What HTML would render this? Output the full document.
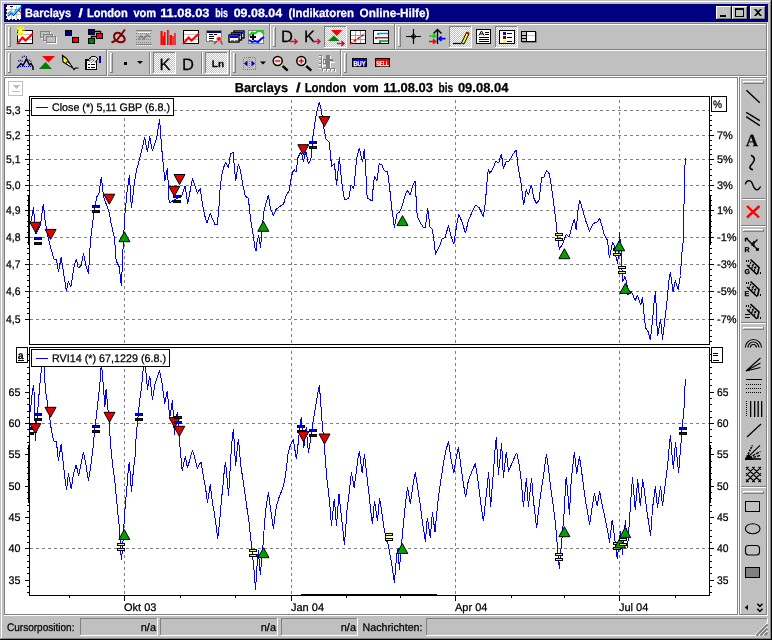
<!DOCTYPE html>
<html><head><meta charset="utf-8"><title>Barclays / London vom 11.08.03 bis 09.08.04 (Indikatoren Online-Hilfe)</title>
<style>html,body{margin:0;padding:0;background:#c0c0c0;overflow:hidden}svg{display:block;will-change:transform}text{white-space:pre;text-rendering:geometricPrecision;paint-order:stroke;stroke-width:0.25px;stroke-linejoin:round}</style>
</head><body>
<svg width="772" height="640" viewBox="0 0 772 640" shape-rendering="crispEdges">
<rect x="0" y="0" width="772" height="640" fill="#c0c0c0" />
<rect x="0" y="0" width="772" height="1" fill="#c0c0c0" />
<rect x="0" y="0" width="1" height="640" fill="#c0c0c0" />
<rect x="1" y="1" width="770" height="1" fill="#ffffff" />
<rect x="1" y="1" width="1" height="638" fill="#ffffff" />
<rect x="0" y="639" width="772" height="1" fill="#000" />
<rect x="771" y="0" width="1" height="640" fill="#000" />
<rect x="1" y="638" width="770" height="1" fill="#808080" />
<rect x="770" y="1" width="1" height="638" fill="#808080" />
<rect x="4" y="4" width="764" height="18" fill="#000080" />
<text y="17" font-family="&quot;Liberation Sans&quot;, sans-serif" font-size="12" font-weight="bold" fill="#fff" stroke="#fff"><tspan x="25" textLength="46.2" lengthAdjust="spacingAndGlyphs">Barclays</tspan><tspan> </tspan><tspan x="78.6" textLength="4.4" lengthAdjust="spacingAndGlyphs">/</tspan><tspan> </tspan><tspan x="86.9" textLength="40.8" lengthAdjust="spacingAndGlyphs">London</tspan><tspan> </tspan><tspan x="133.4" textLength="22.8" lengthAdjust="spacingAndGlyphs">vom</tspan><tspan> </tspan><tspan x="160.2" textLength="49.3" lengthAdjust="spacingAndGlyphs">11.08.03</tspan><tspan> </tspan><tspan x="215.2" textLength="12.8" lengthAdjust="spacingAndGlyphs">bis</tspan><tspan> </tspan><tspan x="233.7" textLength="48.4" lengthAdjust="spacingAndGlyphs">09.08.04</tspan><tspan> </tspan><tspan x="288.4" textLength="65.6" lengthAdjust="spacingAndGlyphs">(Indikatoren</tspan><tspan> </tspan><tspan x="359.6" textLength="69.9" lengthAdjust="spacingAndGlyphs">Online-Hilfe)</tspan></text>
<rect x="6" y="5" width="15" height="15" fill="#fff" />
<rect x="11" y="6" width="1" height="13" fill="#c0c0c0" />
<rect x="16" y="6" width="1" height="13" fill="#c0c0c0" />
<rect x="7" y="9" width="14" height="1" fill="#c0c0c0" />
<rect x="7" y="14" width="14" height="1" fill="#c0c0c0" />
<path d="M6.5 5V19.5H21" stroke="#000" stroke-width="1" stroke-dasharray="2 1.5" fill="none"/>
<rect x="10" y="6" width="3" height="1" fill="#000" />
<path d="M8 13.5l3-2 2.5 3.5 2.5-5 3 .5 2 2" stroke="#ff0000" stroke-width="1.3" fill="none" shape-rendering="auto"/>
<path d="M8 16l3.5-3.5 2 2.5 7.5-8" stroke="#0000ff" stroke-width="1.6" fill="none" shape-rendering="auto"/>
<path d="M8 15l3.5-3.5 2 2.5 7.5-8" stroke="#00ffff" stroke-width="1.3" fill="none" shape-rendering="auto"/>
<rect x="716" y="6" width="16" height="14" fill="#c0c0c0" />
<rect x="716" y="6" width="15" height="1" fill="#ffffff" />
<rect x="716" y="6" width="1" height="13" fill="#ffffff" />
<rect x="716" y="19" width="16" height="1" fill="#000" />
<rect x="731" y="6" width="1" height="14" fill="#000" />
<rect x="717" y="18" width="14" height="1" fill="#808080" />
<rect x="730" y="7" width="1" height="12" fill="#808080" />
<rect x="732" y="6" width="16" height="14" fill="#c0c0c0" />
<rect x="732" y="6" width="15" height="1" fill="#ffffff" />
<rect x="732" y="6" width="1" height="13" fill="#ffffff" />
<rect x="732" y="19" width="16" height="1" fill="#000" />
<rect x="747" y="6" width="1" height="14" fill="#000" />
<rect x="733" y="18" width="14" height="1" fill="#808080" />
<rect x="746" y="7" width="1" height="12" fill="#808080" />
<rect x="750" y="6" width="16" height="14" fill="#c0c0c0" />
<rect x="750" y="6" width="15" height="1" fill="#ffffff" />
<rect x="750" y="6" width="1" height="13" fill="#ffffff" />
<rect x="750" y="19" width="16" height="1" fill="#000" />
<rect x="765" y="6" width="1" height="14" fill="#000" />
<rect x="751" y="18" width="14" height="1" fill="#808080" />
<rect x="764" y="7" width="1" height="12" fill="#808080" />
<rect x="720" y="15" width="6" height="2" fill="#000" />
<path d="M735 8h9v9h-9z M736 10h7v6h-7z" fill="#000" fill-rule="evenodd"/>
<path d="M754 9h2l2 2 2-2h2l-3 3.5 3 3.5h-2l-2-2-2 2h-2l3-3.5z" fill="#000" shape-rendering="auto"/>
<rect x="4" y="23" width="763" height="1" fill="#808080" />
<rect x="4" y="23" width="1" height="53" fill="#808080" />
<rect x="5" y="24" width="763" height="1" fill="#ffffff" />
<rect x="5" y="24" width="1" height="52" fill="#ffffff" />
<rect x="5" y="49" width="762" height="1" fill="#808080" />
<rect x="5" y="50" width="762" height="1" fill="#ffffff" />
<rect x="5" y="75" width="762" height="1" fill="#808080" />
<rect x="4" y="76" width="764" height="1" fill="#ffffff" />
<rect x="766" y="24" width="1" height="52" fill="#808080" />
<rect x="767" y="23" width="1" height="54" fill="#ffffff" />
<rect x="8" y="27" width="1" height="20" fill="#ffffff" />
<rect x="8" y="27" width="2" height="1" fill="#ffffff" />
<rect x="10" y="27" width="1" height="20" fill="#808080" />
<rect x="8" y="46" width="3" height="1" fill="#808080" />
<rect x="273" y="27" width="1" height="20" fill="#ffffff" />
<rect x="273" y="27" width="2" height="1" fill="#ffffff" />
<rect x="275" y="27" width="1" height="20" fill="#808080" />
<rect x="273" y="46" width="3" height="1" fill="#808080" />
<rect x="398" y="27" width="1" height="20" fill="#ffffff" />
<rect x="398" y="27" width="2" height="1" fill="#ffffff" />
<rect x="400" y="27" width="1" height="20" fill="#808080" />
<rect x="398" y="46" width="3" height="1" fill="#808080" />
<rect x="8" y="53" width="1" height="20" fill="#ffffff" />
<rect x="8" y="53" width="2" height="1" fill="#ffffff" />
<rect x="10" y="53" width="1" height="20" fill="#808080" />
<rect x="8" y="72" width="3" height="1" fill="#808080" />
<rect x="110" y="53" width="1" height="20" fill="#ffffff" />
<rect x="110" y="53" width="2" height="1" fill="#ffffff" />
<rect x="112" y="53" width="1" height="20" fill="#808080" />
<rect x="110" y="72" width="3" height="1" fill="#808080" />
<rect x="233" y="53" width="1" height="20" fill="#ffffff" />
<rect x="233" y="53" width="2" height="1" fill="#ffffff" />
<rect x="235" y="53" width="1" height="20" fill="#808080" />
<rect x="233" y="72" width="3" height="1" fill="#808080" />
<rect x="344" y="53" width="1" height="20" fill="#ffffff" />
<rect x="344" y="53" width="2" height="1" fill="#ffffff" />
<rect x="346" y="53" width="1" height="20" fill="#808080" />
<rect x="344" y="72" width="3" height="1" fill="#808080" />
<rect x="269" y="24" width="1" height="25" fill="#808080" />
<rect x="270" y="24" width="1" height="25" fill="#ffffff" />
<rect x="394" y="24" width="1" height="25" fill="#808080" />
<rect x="395" y="24" width="1" height="25" fill="#ffffff" />
<rect x="106" y="50" width="1" height="25" fill="#808080" />
<rect x="107" y="50" width="1" height="26" fill="#ffffff" />
<rect x="229" y="50" width="1" height="25" fill="#808080" />
<rect x="230" y="50" width="1" height="26" fill="#ffffff" />
<rect x="340" y="50" width="1" height="25" fill="#808080" />
<rect x="341" y="50" width="1" height="26" fill="#ffffff" />
<rect x="5" y="78" width="732" height="536" fill="#fff" />
<rect x="4" y="77" width="734" height="1" fill="#808080" />
<rect x="4" y="77" width="1" height="538" fill="#808080" />
<rect x="737" y="77" width="1" height="538" fill="#808080" />
<rect x="4" y="614" width="734" height="1" fill="#808080" />
<rect x="738" y="77" width="1" height="539" fill="#ffffff" />
<rect x="4" y="615" width="764" height="1" fill="#ffffff" />
<rect x="739" y="77" width="1" height="538" fill="#808080" />
<rect x="739" y="77" width="28" height="1" fill="#808080" />
<rect x="740" y="78" width="1" height="536" fill="#ffffff" />
<rect x="740" y="78" width="26" height="1" fill="#ffffff" />
<rect x="766" y="78" width="1" height="537" fill="#808080" />
<rect x="767" y="77" width="1" height="539" fill="#ffffff" />
<rect x="739" y="614" width="28" height="1" fill="#808080" />
<rect x="741" y="225" width="25" height="1" fill="#808080" />
<rect x="741" y="226" width="25" height="1" fill="#ffffff" />
<rect x="741" y="322" width="25" height="1" fill="#808080" />
<rect x="741" y="323" width="25" height="1" fill="#ffffff" />
<rect x="741" y="486" width="25" height="1" fill="#808080" />
<rect x="741" y="487" width="25" height="1" fill="#ffffff" />
<rect x="743" y="81" width="21" height="1" fill="#ffffff" />
<rect x="743" y="81" width="1" height="2" fill="#ffffff" />
<rect x="743" y="83" width="21" height="1" fill="#808080" />
<rect x="763" y="81" width="1" height="3" fill="#808080" />
<rect x="743" y="229" width="21" height="1" fill="#ffffff" />
<rect x="743" y="229" width="1" height="2" fill="#ffffff" />
<rect x="743" y="231" width="21" height="1" fill="#808080" />
<rect x="763" y="229" width="1" height="3" fill="#808080" />
<rect x="743" y="327" width="21" height="1" fill="#ffffff" />
<rect x="743" y="327" width="1" height="2" fill="#ffffff" />
<rect x="743" y="329" width="21" height="1" fill="#808080" />
<rect x="763" y="327" width="1" height="3" fill="#808080" />
<rect x="743" y="491" width="21" height="1" fill="#ffffff" />
<rect x="743" y="491" width="1" height="2" fill="#ffffff" />
<rect x="743" y="493" width="21" height="1" fill="#808080" />
<rect x="763" y="491" width="1" height="3" fill="#808080" />
<rect x="742" y="198" width="23" height="1" fill="#808080" />
<rect x="742" y="199" width="23" height="1" fill="#ffffff" />
<rect x="4" y="616" width="764" height="1" fill="#c0c0c0" />
<rect x="80" y="618" width="77" height="1" fill="#808080" />
<rect x="80" y="618" width="1" height="17" fill="#808080" />
<rect x="80" y="635" width="78" height="1" fill="#ffffff" />
<rect x="157" y="618" width="1" height="18" fill="#ffffff" />
<rect x="160" y="618" width="117" height="1" fill="#808080" />
<rect x="160" y="618" width="1" height="17" fill="#808080" />
<rect x="160" y="635" width="118" height="1" fill="#ffffff" />
<rect x="277" y="618" width="1" height="18" fill="#ffffff" />
<rect x="281" y="618" width="76" height="1" fill="#808080" />
<rect x="281" y="618" width="1" height="17" fill="#808080" />
<rect x="281" y="635" width="77" height="1" fill="#ffffff" />
<rect x="357" y="618" width="1" height="18" fill="#ffffff" />
<rect x="426" y="618" width="341" height="1" fill="#808080" />
<rect x="426" y="618" width="1" height="17" fill="#808080" />
<rect x="426" y="635" width="342" height="1" fill="#ffffff" />
<rect x="767" y="618" width="1" height="18" fill="#ffffff" />
<text x="7" y="631" font-family="&quot;Liberation Sans&quot;, sans-serif" font-size="11" font-weight="normal" fill="#000" stroke="#000" text-anchor="start" textLength="67.5" lengthAdjust="spacingAndGlyphs" >Cursorposition:</text>
<text x="156" y="631" font-family="&quot;Liberation Sans&quot;, sans-serif" font-size="11" font-weight="normal" fill="#000" stroke="#000" text-anchor="end" >n/a</text>
<text x="276" y="631" font-family="&quot;Liberation Sans&quot;, sans-serif" font-size="11" font-weight="normal" fill="#000" stroke="#000" text-anchor="end" >n/a</text>
<text x="356" y="631" font-family="&quot;Liberation Sans&quot;, sans-serif" font-size="11" font-weight="normal" fill="#000" stroke="#000" text-anchor="end" >n/a</text>
<text x="362.5" y="631" font-family="&quot;Liberation Sans&quot;, sans-serif" font-size="11" font-weight="normal" fill="#000" stroke="#000" text-anchor="start" textLength="60" lengthAdjust="spacingAndGlyphs" >Nachrichten:</text>
<rect x="755" y="622" width="13" height="14" fill="#c0c0c0" />
<rect x="767" y="618" width="1" height="5" fill="#ffffff" />
<path d="M755 635.5L767.5 623" stroke="#fff" stroke-width="1.2" shape-rendering="auto"/>
<path d="M756.5 635.5L767.5 624.5" stroke="#808080" stroke-width="2" shape-rendering="auto"/>
<path d="M759 635.5L767.5 627" stroke="#fff" stroke-width="1.2" shape-rendering="auto"/>
<path d="M760.5 635.5L767.5 628.5" stroke="#808080" stroke-width="2" shape-rendering="auto"/>
<path d="M763 635.5L767.5 631" stroke="#fff" stroke-width="1.2" shape-rendering="auto"/>
<path d="M764.5 635.5L767.5 632.5" stroke="#808080" stroke-width="2" shape-rendering="auto"/>
<text y="91.5" font-family="&quot;Liberation Sans&quot;, sans-serif" font-size="13" font-weight="bold" fill="#000" stroke="#000"><tspan x="234.8" textLength="53.2" lengthAdjust="spacingAndGlyphs">Barclays</tspan><tspan> </tspan><tspan x="296" textLength="4.6" lengthAdjust="spacingAndGlyphs">/</tspan><tspan> </tspan><tspan x="304.7" textLength="41.6" lengthAdjust="spacingAndGlyphs">London</tspan><tspan> </tspan><tspan x="353.3" textLength="25.3" lengthAdjust="spacingAndGlyphs">vom</tspan><tspan> </tspan><tspan x="383.2" textLength="49.8" lengthAdjust="spacingAndGlyphs">11.08.03</tspan><tspan> </tspan><tspan x="438.4" textLength="14.8" lengthAdjust="spacingAndGlyphs">bis</tspan><tspan> </tspan><tspan x="457.9" textLength="50.5" lengthAdjust="spacingAndGlyphs">09.08.04</tspan></text>
<rect x="8.5" y="81.5" width="14" height="14" fill="#fff" stroke="#c0c0c0" stroke-width="1"/>
<path d="M12 85h8l-4 4z" fill="#c0c0c0"/>
<rect x="12" y="91" width="8" height="1" fill="#c0c0c0" />
<path d="M30 110.5H709" stroke="#808080" stroke-width="1" stroke-dasharray="3 3" fill="none"/>
<path d="M30 135.5H709" stroke="#808080" stroke-width="1" stroke-dasharray="3 3" fill="none"/>
<path d="M30 159.5H709" stroke="#808080" stroke-width="1" stroke-dasharray="3 3" fill="none"/>
<path d="M30 185.5H709" stroke="#808080" stroke-width="1" stroke-dasharray="3 3" fill="none"/>
<path d="M30 210.5H709" stroke="#808080" stroke-width="1" stroke-dasharray="3 3" fill="none"/>
<path d="M30 237.5H709" stroke="#808080" stroke-width="1" stroke-dasharray="3 3" fill="none"/>
<path d="M30 264.5H709" stroke="#808080" stroke-width="1" stroke-dasharray="3 3" fill="none"/>
<path d="M30 291.5H709" stroke="#808080" stroke-width="1" stroke-dasharray="3 3" fill="none"/>
<path d="M30 319.5H709" stroke="#808080" stroke-width="1" stroke-dasharray="3 3" fill="none"/>
<path d="M124.5 100V344" stroke="#808080" stroke-width="1" stroke-dasharray="3 3" fill="none"/>
<path d="M291.5 100V344" stroke="#808080" stroke-width="1" stroke-dasharray="3 3" fill="none"/>
<path d="M455.5 100V344" stroke="#808080" stroke-width="1" stroke-dasharray="3 3" fill="none"/>
<path d="M619.5 100V344" stroke="#808080" stroke-width="1" stroke-dasharray="3 3" fill="none"/>
<path d="M30.8 222.3 L33.5 207.5 L34.6 221.6 L35.8 234.0 L40.5 224.7 L43.3 203.6 L45.2 221.6 L48.3 238.8 L53.8 259.0 L56.4 259.4 L58.5 271.9 L61.1 257.5 L63.2 270.0 L66.3 291.1 L68.3 281.7 L71.0 286.4 L74.1 266.1 L76.4 258.8 L78.3 268.1 L81.1 265.3 L83.5 253.6 L86.1 266.1 L88.5 273.9 L90.4 241.9 L92.7 221.6 L96.6 197.3 L98.9 193.4 L101.3 177.0 L103.6 196.6 L109.1 212.2 L111.4 224.7 L114.6 238.8 L116.1 260.6 L119.2 266.9 L121.4 286.4 L122.7 255.2 L124.7 216.9 L127.0 191.9 L129.4 175.0 L131.4 208.3 L134.1 185.6 L136.4 170.0 L138.0 165.3 L141.9 149.7 L144.6 137.2 L147.4 152.0 L149.7 136.4 L152.4 151.2 L156.8 137.2 L159.6 119.2 L161.4 145.0 L163.8 170.0 L164.9 180.9 L167.4 168.1 L169.2 203.1 L173.2 200.5 L181.8 195.8 L185.2 185.6 L187.7 204.0 L192.4 178.6 L197.4 193.4 L200.2 188.5 L202.3 203.1 L204.7 215.6 L207.0 222.7 L210.2 213.3 L212.5 218.8 L214.8 224.2 L217.2 224.7 L218.8 209.4 L220.3 185.9 L221.9 175.0 L223.4 168.0 L225.8 162.5 L228.4 168.0 L230.5 153.9 L233.1 152.3 L234.4 167.2 L235.6 181.2 L238.3 164.1 L240.6 171.1 L243.0 185.9 L245.3 196.1 L248.4 198.4 L250.3 217.2 L253.1 234.4 L255.0 248.0 L256.0 251.0 L257.0 242.2 L258.6 235.6 L260.6 247.7 L261.7 232.8 L264.1 210.2 L266.4 201.6 L268.4 195.3 L270.6 209.4 L273.4 215.3 L276.2 209.1 L279.7 206.6 L283.6 203.9 L285.9 196.1 L289.1 190.6 L290.6 181.2 L292.5 172.3 L294.1 169.7 L296.1 172.3 L298.0 157.5 L300.3 152.8 L301.9 154.4 L303.4 161.4 L305.8 151.2 L308.4 163.8 L310.9 159.1 L312.8 137.2 L315.2 120.8 L317.5 108.3 L319.4 102.0 L321.4 110.6 L323.8 127.8 L326.1 139.5 L329.2 141.9 L331.6 166.6 L334.4 163.4 L336.6 185.3 L339.4 157.5 L341.7 182.5 L342.5 187.2 L344.4 200.0 L348.8 198.1 L351.1 184.8 L353.8 188.8 L355.8 166.9 L357.3 155.2 L359.4 147.8 L360.9 155.2 L362.5 162.2 L364.4 148.9 L365.6 168.4 L367.2 198.1 L372.2 200.9 L373.4 184.1 L374.5 175.9 L376.9 180.9 L379.2 163.8 L381.6 164.5 L384.4 170.8 L387.5 171.6 L389.4 185.6 L391.7 207.5 L394.4 227.5 L396.9 213.8 L399.5 212.2 L402.2 205.9 L404.7 196.6 L407.3 190.3 L410.0 195.0 L412.8 185.6 L415.2 181.2 L416.2 199.7 L417.2 216.1 L420.6 223.1 L423.4 227.5 L425.3 227.5 L427.7 208.3 L430.0 227.0 L432.3 229.1 L433.9 240.3 L435.5 254.4 L439.4 246.6 L442.2 238.8 L445.3 237.2 L448.3 225.5 L450.9 235.6 L453.8 244.2 L455.6 232.5 L456.9 223.1 L458.8 214.5 L461.9 221.6 L465.5 233.3 L468.1 221.6 L472.0 212.2 L475.6 205.2 L479.1 207.5 L483.4 216.6 L485.3 202.8 L486.9 184.1 L487.3 176.2 L488.4 169.2 L489.7 173.9 L493.1 167.7 L495.9 161.4 L498.6 163.0 L501.4 153.6 L503.3 168.4 L506.4 161.4 L508.8 161.4 L513.4 153.6 L516.2 149.7 L518.1 166.9 L521.2 184.1 L523.6 205.2 L526.2 189.5 L528.3 195.0 L531.4 184.8 L533.8 198.1 L536.6 203.6 L539.2 199.7 L541.6 177.8 L543.9 177.0 L546.6 170.3 L549.4 173.9 L551.7 188.8 L553.6 202.5 L555.9 221.2 L557.5 236.9 L559.4 249.4 L563.0 243.1 L566.1 234.5 L569.2 236.9 L572.3 225.2 L574.4 219.4 L576.2 230.3 L578.1 208.8 L579.7 199.7 L582.5 209.5 L585.9 221.2 L589.5 231.4 L592.7 224.4 L595.0 222.5 L597.3 222.0 L599.7 218.4 L602.0 225.9 L604.4 235.3 L607.5 240.3 L609.4 258.4 L612.5 242.3 L614.5 245.5 L616.1 257.2 L617.7 264.2 L619.5 232.2 L621.6 258.8 L622.5 282.3 L624.9 276.5 L626.9 283.3 L627.8 294.7 L631.2 291.1 L635.2 300.5 L637.5 295.0 L640.6 305.2 L642.5 297.3 L643.8 312.2 L645.6 327.8 L648.1 331.7 L650.3 339.5 L652.3 323.1 L653.9 304.4 L655.5 291.1 L656.2 307.5 L657.5 336.4 L660.6 319.2 L662.5 339.5 L664.8 320.0 L667.2 299.7 L668.8 280.9 L670.3 272.3 L673.1 291.6 L675.3 280.2 L678.1 289.5 L680.5 275.5 L681.6 255.9 L682.8 245.0 L683.4 240.0 L683.8 216.6 L684.5 177.5 L685.3 158.4" fill="none" stroke="#0000ff" stroke-width="1" stroke-linejoin="bevel" shape-rendering="crispEdges"/>
<path d="M29.9 222.3h11l-5.5 10z" fill="#e00000" stroke="#000" stroke-width="1" stroke-linejoin="miter" shape-rendering="auto"/>
<rect x="34" y="237" width="8" height="3" fill="#000" />
<rect x="35" y="238" width="6" height="1" fill="#0000ff" />
<rect x="34" y="242" width="8" height="3" fill="#000" />
<rect x="35" y="243" width="6" height="1" fill="#0000ff" />
<path d="M45.1 229.4h11l-5.5 10z" fill="#e00000" stroke="#000" stroke-width="1" stroke-linejoin="miter" shape-rendering="auto"/>
<rect x="92" y="205" width="8" height="3" fill="#000" />
<rect x="93" y="206" width="6" height="1" fill="#0000ff" />
<rect x="92" y="210" width="8" height="3" fill="#000" />
<rect x="93" y="211" width="6" height="1" fill="#0000ff" />
<path d="M103.8 194.2h11l-5.5 10z" fill="#e00000" stroke="#000" stroke-width="1" stroke-linejoin="miter" shape-rendering="auto"/>
<path d="M124.4 231.7l5.5 10h-11z" fill="#00a000" stroke="#000" stroke-width="1" stroke-linejoin="miter" shape-rendering="auto"/>
<path d="M168.8 186.3h11l-5.5 10z" fill="#e00000" stroke="#000" stroke-width="1" stroke-linejoin="miter" shape-rendering="auto"/>
<rect x="173" y="195" width="8" height="3" fill="#000" />
<rect x="174" y="196" width="6" height="1" fill="#0000ff" />
<rect x="173" y="200" width="8" height="3" fill="#000" />
<rect x="174" y="201" width="6" height="1" fill="#0000ff" />
<path d="M174.0 174.5h11l-5.5 10z" fill="#e00000" stroke="#000" stroke-width="1" stroke-linejoin="miter" shape-rendering="auto"/>
<path d="M263.3 221.3l5.5 10h-11z" fill="#00a000" stroke="#000" stroke-width="1" stroke-linejoin="miter" shape-rendering="auto"/>
<path d="M297.8 144.7h11l-5.5 10z" fill="#e00000" stroke="#000" stroke-width="1" stroke-linejoin="miter" shape-rendering="auto"/>
<rect x="309" y="141" width="8" height="3" fill="#000" />
<rect x="310" y="142" width="6" height="1" fill="#0000ff" />
<rect x="309" y="146" width="8" height="3" fill="#000" />
<rect x="310" y="147" width="6" height="1" fill="#0000ff" />
<path d="M318.9 116.6h11l-5.5 10z" fill="#e00000" stroke="#000" stroke-width="1" stroke-linejoin="miter" shape-rendering="auto"/>
<path d="M402.5 215.6l5.5 10h-11z" fill="#00a000" stroke="#000" stroke-width="1" stroke-linejoin="miter" shape-rendering="auto"/>
<rect x="555" y="233" width="8" height="3" fill="#000" />
<rect x="556" y="234" width="6" height="1" fill="#ffff00" />
<rect x="555" y="238" width="8" height="3" fill="#000" />
<rect x="556" y="239" width="6" height="1" fill="#ffff00" />
<path d="M564.4 248.7l5.5 10h-11z" fill="#00a000" stroke="#000" stroke-width="1" stroke-linejoin="miter" shape-rendering="auto"/>
<rect x="613" y="248" width="8" height="3" fill="#000" />
<rect x="614" y="249" width="6" height="1" fill="#ffff00" />
<rect x="613" y="253" width="8" height="3" fill="#000" />
<rect x="614" y="254" width="6" height="1" fill="#ffff00" />
<path d="M619.2 240.8l5.5 10h-11z" fill="#00a000" stroke="#000" stroke-width="1" stroke-linejoin="miter" shape-rendering="auto"/>
<rect x="618" y="266" width="8" height="3" fill="#000" />
<rect x="619" y="267" width="6" height="1" fill="#ffff00" />
<rect x="618" y="271" width="8" height="3" fill="#000" />
<rect x="619" y="272" width="6" height="1" fill="#ffff00" />
<path d="M625.3 283.4l5.5 10h-11z" fill="#00a000" stroke="#000" stroke-width="1" stroke-linejoin="miter" shape-rendering="auto"/>
<rect x="29" y="96" width="681" height="1" fill="#000" />
<rect x="29" y="344" width="681" height="1" fill="#000" />
<rect x="29" y="96" width="1" height="249" fill="#000" />
<rect x="709" y="96" width="1" height="249" fill="#000" />
<rect x="25" y="110" width="4" height="1" fill="#000" />
<rect x="27" y="115" width="2" height="1" fill="#000" />
<rect x="710" y="115" width="2" height="1" fill="#000" />
<rect x="27" y="120" width="2" height="1" fill="#000" />
<rect x="710" y="120" width="2" height="1" fill="#000" />
<rect x="27" y="125" width="2" height="1" fill="#000" />
<rect x="710" y="125" width="2" height="1" fill="#000" />
<rect x="27" y="130" width="2" height="1" fill="#000" />
<rect x="710" y="130" width="2" height="1" fill="#000" />
<rect x="25" y="135" width="4" height="1" fill="#000" />
<rect x="710" y="135" width="4" height="1" fill="#000" />
<rect x="27" y="140" width="2" height="1" fill="#000" />
<rect x="710" y="140" width="2" height="1" fill="#000" />
<rect x="27" y="145" width="2" height="1" fill="#000" />
<rect x="710" y="145" width="2" height="1" fill="#000" />
<rect x="27" y="149" width="2" height="1" fill="#000" />
<rect x="710" y="149" width="2" height="1" fill="#000" />
<rect x="27" y="154" width="2" height="1" fill="#000" />
<rect x="710" y="154" width="2" height="1" fill="#000" />
<rect x="25" y="159" width="4" height="1" fill="#000" />
<rect x="710" y="159" width="4" height="1" fill="#000" />
<rect x="27" y="164" width="2" height="1" fill="#000" />
<rect x="710" y="164" width="2" height="1" fill="#000" />
<rect x="27" y="169" width="2" height="1" fill="#000" />
<rect x="710" y="169" width="2" height="1" fill="#000" />
<rect x="27" y="175" width="2" height="1" fill="#000" />
<rect x="710" y="175" width="2" height="1" fill="#000" />
<rect x="27" y="180" width="2" height="1" fill="#000" />
<rect x="710" y="180" width="2" height="1" fill="#000" />
<rect x="25" y="185" width="4" height="1" fill="#000" />
<rect x="710" y="185" width="4" height="1" fill="#000" />
<rect x="27" y="190" width="2" height="1" fill="#000" />
<rect x="710" y="190" width="2" height="1" fill="#000" />
<rect x="27" y="195" width="2" height="1" fill="#000" />
<rect x="710" y="195" width="2" height="1" fill="#000" />
<rect x="27" y="200" width="2" height="1" fill="#000" />
<rect x="710" y="200" width="2" height="1" fill="#000" />
<rect x="27" y="205" width="2" height="1" fill="#000" />
<rect x="710" y="205" width="2" height="1" fill="#000" />
<rect x="25" y="210" width="4" height="1" fill="#000" />
<rect x="710" y="210" width="4" height="1" fill="#000" />
<rect x="27" y="215" width="2" height="1" fill="#000" />
<rect x="710" y="215" width="2" height="1" fill="#000" />
<rect x="27" y="221" width="2" height="1" fill="#000" />
<rect x="710" y="221" width="2" height="1" fill="#000" />
<rect x="27" y="226" width="2" height="1" fill="#000" />
<rect x="710" y="226" width="2" height="1" fill="#000" />
<rect x="27" y="232" width="2" height="1" fill="#000" />
<rect x="710" y="232" width="2" height="1" fill="#000" />
<rect x="25" y="237" width="4" height="1" fill="#000" />
<rect x="710" y="237" width="4" height="1" fill="#000" />
<rect x="27" y="242" width="2" height="1" fill="#000" />
<rect x="710" y="242" width="2" height="1" fill="#000" />
<rect x="27" y="248" width="2" height="1" fill="#000" />
<rect x="710" y="248" width="2" height="1" fill="#000" />
<rect x="27" y="253" width="2" height="1" fill="#000" />
<rect x="710" y="253" width="2" height="1" fill="#000" />
<rect x="27" y="259" width="2" height="1" fill="#000" />
<rect x="710" y="259" width="2" height="1" fill="#000" />
<rect x="25" y="264" width="4" height="1" fill="#000" />
<rect x="710" y="264" width="4" height="1" fill="#000" />
<rect x="27" y="269" width="2" height="1" fill="#000" />
<rect x="710" y="269" width="2" height="1" fill="#000" />
<rect x="27" y="275" width="2" height="1" fill="#000" />
<rect x="710" y="275" width="2" height="1" fill="#000" />
<rect x="27" y="280" width="2" height="1" fill="#000" />
<rect x="710" y="280" width="2" height="1" fill="#000" />
<rect x="27" y="286" width="2" height="1" fill="#000" />
<rect x="710" y="286" width="2" height="1" fill="#000" />
<rect x="25" y="291" width="4" height="1" fill="#000" />
<rect x="710" y="291" width="4" height="1" fill="#000" />
<rect x="27" y="297" width="2" height="1" fill="#000" />
<rect x="710" y="297" width="2" height="1" fill="#000" />
<rect x="27" y="302" width="2" height="1" fill="#000" />
<rect x="710" y="302" width="2" height="1" fill="#000" />
<rect x="27" y="308" width="2" height="1" fill="#000" />
<rect x="710" y="308" width="2" height="1" fill="#000" />
<rect x="27" y="313" width="2" height="1" fill="#000" />
<rect x="710" y="313" width="2" height="1" fill="#000" />
<rect x="25" y="319" width="4" height="1" fill="#000" />
<rect x="710" y="319" width="4" height="1" fill="#000" />
<rect x="710" y="325" width="2" height="1" fill="#000" />
<rect x="710" y="330" width="2" height="1" fill="#000" />
<rect x="710" y="336" width="2" height="1" fill="#000" />
<rect x="710" y="341" width="2" height="1" fill="#000" />
<text x="6" y="114" font-family="&quot;Liberation Sans&quot;, sans-serif" font-size="11" font-weight="normal" fill="#000" stroke="#000" text-anchor="start" textLength="14.5" lengthAdjust="spacingAndGlyphs" >5,3</text>
<text x="6" y="139" font-family="&quot;Liberation Sans&quot;, sans-serif" font-size="11" font-weight="normal" fill="#000" stroke="#000" text-anchor="start" textLength="14.5" lengthAdjust="spacingAndGlyphs" >5,2</text>
<text x="6" y="163" font-family="&quot;Liberation Sans&quot;, sans-serif" font-size="11" font-weight="normal" fill="#000" stroke="#000" text-anchor="start" textLength="14.5" lengthAdjust="spacingAndGlyphs" >5,1</text>
<text x="6" y="189" font-family="&quot;Liberation Sans&quot;, sans-serif" font-size="11" font-weight="normal" fill="#000" stroke="#000" text-anchor="start" textLength="14.5" lengthAdjust="spacingAndGlyphs" >5,0</text>
<text x="6" y="214" font-family="&quot;Liberation Sans&quot;, sans-serif" font-size="11" font-weight="normal" fill="#000" stroke="#000" text-anchor="start" textLength="14.5" lengthAdjust="spacingAndGlyphs" >4,9</text>
<text x="6" y="241" font-family="&quot;Liberation Sans&quot;, sans-serif" font-size="11" font-weight="normal" fill="#000" stroke="#000" text-anchor="start" textLength="14.5" lengthAdjust="spacingAndGlyphs" >4,8</text>
<text x="6" y="268" font-family="&quot;Liberation Sans&quot;, sans-serif" font-size="11" font-weight="normal" fill="#000" stroke="#000" text-anchor="start" textLength="14.5" lengthAdjust="spacingAndGlyphs" >4,7</text>
<text x="6" y="295" font-family="&quot;Liberation Sans&quot;, sans-serif" font-size="11" font-weight="normal" fill="#000" stroke="#000" text-anchor="start" textLength="14.5" lengthAdjust="spacingAndGlyphs" >4,6</text>
<text x="6" y="323" font-family="&quot;Liberation Sans&quot;, sans-serif" font-size="11" font-weight="normal" fill="#000" stroke="#000" text-anchor="start" textLength="14.5" lengthAdjust="spacingAndGlyphs" >4,5</text>
<text x="717" y="139" font-family="&quot;Liberation Sans&quot;, sans-serif" font-size="11" font-weight="normal" fill="#000" stroke="#000" text-anchor="start" >7%</text>
<text x="717" y="163" font-family="&quot;Liberation Sans&quot;, sans-serif" font-size="11" font-weight="normal" fill="#000" stroke="#000" text-anchor="start" >5%</text>
<text x="717" y="189" font-family="&quot;Liberation Sans&quot;, sans-serif" font-size="11" font-weight="normal" fill="#000" stroke="#000" text-anchor="start" >3%</text>
<text x="717" y="214" font-family="&quot;Liberation Sans&quot;, sans-serif" font-size="11" font-weight="normal" fill="#000" stroke="#000" text-anchor="start" >1%</text>
<text x="717" y="241" font-family="&quot;Liberation Sans&quot;, sans-serif" font-size="11" font-weight="normal" fill="#000" stroke="#000" text-anchor="start" >-1%</text>
<text x="717" y="268" font-family="&quot;Liberation Sans&quot;, sans-serif" font-size="11" font-weight="normal" fill="#000" stroke="#000" text-anchor="start" >-3%</text>
<text x="717" y="295" font-family="&quot;Liberation Sans&quot;, sans-serif" font-size="11" font-weight="normal" fill="#000" stroke="#000" text-anchor="start" >-5%</text>
<text x="717" y="323" font-family="&quot;Liberation Sans&quot;, sans-serif" font-size="11" font-weight="normal" fill="#000" stroke="#000" text-anchor="start" >-7%</text>
<rect x="711.5" y="96.5" width="15" height="15" fill="#fff" stroke="#000" stroke-width="1"/>
<text x="713" y="108" font-family="&quot;Liberation Sans&quot;, sans-serif" font-size="11" font-weight="normal" fill="#000" stroke="#000" text-anchor="start" textLength="9" lengthAdjust="spacingAndGlyphs" >%</text>
<rect x="31.5" y="98.5" width="142" height="17" fill="#fff" stroke="#000" stroke-width="1"/>
<rect x="36" y="107" width="12" height="1" fill="#0000ff" />
<text x="52" y="111" font-family="&quot;Liberation Sans&quot;, sans-serif" font-size="11" font-weight="normal" fill="#000" stroke="#000" text-anchor="start" textLength="118" lengthAdjust="spacingAndGlyphs" >Close (*) 5,11 GBP (6.8.)</text>
<rect x="28" y="195" width="1" height="50" fill="#000" />
<rect x="710" y="195" width="1" height="50" fill="#000" />
<path d="M30 423.5H709" stroke="#808080" stroke-width="1" stroke-dasharray="3 3" fill="none"/>
<path d="M30 548.5H709" stroke="#808080" stroke-width="1" stroke-dasharray="3 3" fill="none"/>
<path d="M124.5 351V595" stroke="#808080" stroke-width="1" stroke-dasharray="3 3" fill="none"/>
<path d="M291.5 351V595" stroke="#808080" stroke-width="1" stroke-dasharray="3 3" fill="none"/>
<path d="M455.5 351V595" stroke="#808080" stroke-width="1" stroke-dasharray="3 3" fill="none"/>
<path d="M619.5 351V595" stroke="#808080" stroke-width="1" stroke-dasharray="3 3" fill="none"/>
<path d="M30.3 411.6 L31.9 395.9 L33.5 385.0 L34.6 399.0 L35.5 440.5 L37.4 414.7 L38.9 395.9 L40.8 374.0 L43.2 358.0 L44.4 367.0 L45.2 388.1 L47.5 403.8 L49.9 419.4 L51.4 430.3 L53.8 441.2 L56.4 441.6 L58.4 461.0 L60.0 451.6 L61.1 444.4 L63.1 461.7 L64.7 476.6 L66.6 490.3 L68.4 473.4 L71.2 489.0 L73.6 473.4 L76.2 464.8 L78.6 475.8 L80.9 464.8 L83.4 452.3 L86.1 465.6 L88.4 480.9 L90.8 465.6 L92.8 450.0 L93.6 441.2 L96.0 419.4 L98.3 399.0 L100.2 380.3 L101.4 362.0 L103.0 381.9 L104.9 406.9 L106.1 388.9 L108.0 410.0 L109.2 422.5 L110.5 444.4 L112.7 465.6 L115.0 482.8 L116.6 500.0 L118.1 515.6 L119.7 529.7 L120.5 550.0 L121.5 559.8 L122.6 548.0 L123.2 538.0 L124.4 517.2 L125.6 501.6 L127.2 484.4 L128.3 468.8 L129.4 461.7 L131.4 492.2 L133.4 470.3 L135.0 457.8 L135.8 441.2 L137.4 422.5 L139.7 400.6 L141.6 386.6 L143.4 367.0 L144.4 358.0 L145.5 367.0 L147.5 389.7 L149.7 375.6 L152.5 399.8 L154.8 385.0 L157.2 377.2 L159.5 370.2 L161.9 381.9 L164.7 403.8 L167.3 391.2 L169.7 417.8 L172.5 400.3 L174.4 435.0 L177.2 412.3 L179.1 428.8 L179.8 444.4 L180.6 454.0 L182.2 470.5 L185.3 456.4 L187.5 468.1 L190.0 458.8 L192.5 450.2 L195.0 458.8 L197.3 468.4 L200.9 461.9 L202.8 472.8 L205.6 488.4 L207.5 502.5 L210.3 484.5 L212.2 500.9 L214.5 514.2 L216.1 525.9 L217.7 538.8 L219.7 521.2 L221.2 502.5 L222.8 486.9 L223.9 474.4 L225.5 461.6 L227.0 477.5 L228.6 495.5 L230.2 468.1 L231.5 446.0 L233.4 429.1 L235.6 465.8 L237.2 449.4 L238.4 438.9 L239.5 449.4 L240.3 461.9 L241.9 472.8 L244.2 488.4 L246.6 505.6 L248.9 521.2 L250.5 536.0 L252.0 551.6 L253.6 565.6 L254.7 578.1 L255.5 590.3 L256.7 570.3 L258.3 550.0 L260.3 574.7 L261.4 562.5 L263.0 545.3 L264.5 523.4 L266.1 507.5 L268.4 492.3 L270.8 511.0 L273.4 528.6 L275.3 514.0 L276.6 505.6 L279.4 496.2 L282.8 488.4 L284.8 479.1 L286.4 469.0 L287.8 454.4 L290.2 445.8 L293.3 439.5 L296.4 459.4 L298.8 437.2 L300.3 421.6 L301.4 416.9 L303.8 448.1 L306.2 427.5 L308.4 452.5 L310.9 437.2 L312.8 423.1 L315.2 409.1 L317.5 395.0 L319.4 385.3 L320.6 401.2 L322.2 423.1 L323.8 440.3 L325.3 458.0 L326.7 477.5 L328.8 494.7 L330.3 510.3 L331.4 525.5 L334.3 498.6 L336.5 525.5 L339.0 493.9 L341.2 515.0 L342.8 529.0 L344.4 545.3 L346.2 521.9 L347.0 510.3 L348.6 497.8 L350.2 483.8 L351.4 472.0 L354.1 487.7 L356.4 471.2 L357.8 459.1 L359.4 451.5 L362.2 473.0 L364.5 453.7 L366.3 471.0 L368.9 493.1 L370.9 511.9 L372.4 524.3 L374.5 501.0 L377.5 520.8 L379.6 498.0 L382.2 515.0 L383.8 526.6 L386.1 539.1 L388.4 545.3 L390.0 554.7 L392.3 567.2 L394.4 583.1 L395.5 568.8 L397.0 553.1 L398.1 548.4 L399.4 570.3 L400.6 554.7 L401.7 542.2 L403.5 523.0 L405.6 502.5 L407.5 486.6 L410.3 504.1 L412.7 486.9 L415.3 472.0 L417.3 485.3 L419.7 501.0 L421.6 516.0 L423.6 529.7 L425.4 541.5 L427.3 517.6 L430.3 537.6 L432.4 512.3 L435.0 532.0 L436.7 514.3 L438.6 495.6 L440.9 480.0 L443.3 464.4 L445.6 451.9 L448.4 441.2 L451.1 459.7 L453.8 473.4 L455.8 459.7 L458.4 447.2 L460.5 462.8 L462.8 480.0 L465.6 497.2 L468.3 480.8 L471.9 471.4 L475.3 463.6 L477.7 478.4 L480.0 497.2 L481.9 511.2 L483.4 521.4 L485.5 501.9 L487.0 487.8 L488.6 472.2 L490.6 507.3 L492.5 483.1 L494.1 462.8 L495.3 445.6 L496.4 437.0 L498.4 474.5 L501.6 443.3 L503.4 477.7 L506.2 451.9 L508.6 471.4 L512.8 461.2 L516.7 452.7 L519.1 464.4 L521.4 481.6 L523.4 507.3 L526.4 478.4 L528.4 506.6 L531.6 477.7 L533.1 497.2 L535.0 514.4 L536.6 528.4 L538.6 509.7 L540.9 492.5 L543.3 476.9 L544.8 465.9 L546.5 454.1 L548.6 469.7 L550.6 486.9 L552.8 502.5 L554.8 517.6 L556.3 533.5 L557.5 548.4 L558.4 560.9 L559.5 568.8 L560.6 553.1 L561.9 539.1 L563.4 522.0 L564.7 505.6 L565.3 486.9 L566.2 476.7 L567.8 493.1 L569.4 514.5 L570.9 485.3 L572.5 468.1 L574.4 452.2 L576.7 473.6 L579.4 456.4 L581.4 469.7 L583.4 485.3 L585.3 499.4 L587.7 513.4 L589.7 524.5 L591.6 511.1 L594.4 493.4 L597.2 506.0 L599.7 491.2 L601.7 502.5 L604.1 513.8 L606.4 524.4 L608.8 537.7 L609.5 542.5 L612.2 519.6 L614.2 534.0 L615.8 548.4 L617.3 558.6 L618.9 543.8 L620.5 531.2 L622.5 554.7 L623.6 539.1 L625.5 520.4 L627.5 547.7 L629.1 526.0 L630.6 502.8 L632.5 477.5 L635.3 510.1 L637.7 479.4 L640.3 506.3 L642.7 479.4 L644.7 493.1 L647.0 511.9 L649.4 527.5 L650.6 536.4 L652.5 508.5 L655.4 486.3 L657.5 508.0 L660.6 485.6 L662.5 506.4 L665.3 483.8 L667.7 465.0 L669.7 441.0 L670.5 435.0 L671.9 453.8 L673.4 468.9 L675.5 442.2 L678.6 472.8 L680.6 447.8 L681.2 441.2 L682.5 424.1 L684.1 406.9 L684.8 388.1 L685.6 379.1" fill="none" stroke="#0000ff" stroke-width="1" stroke-linejoin="bevel" shape-rendering="crispEdges"/>
<rect x="26" y="427" width="8" height="3" fill="#000" />
<rect x="27" y="428" width="6" height="1" fill="#0000ff" />
<rect x="26" y="432" width="8" height="3" fill="#000" />
<rect x="27" y="433" width="6" height="1" fill="#0000ff" />
<path d="M29.8 423.6h11l-5.5 10z" fill="#e00000" stroke="#000" stroke-width="1" stroke-linejoin="miter" shape-rendering="auto"/>
<rect x="34" y="413" width="8" height="3" fill="#000" />
<rect x="35" y="414" width="6" height="1" fill="#0000ff" />
<rect x="34" y="418" width="8" height="3" fill="#000" />
<rect x="35" y="419" width="6" height="1" fill="#0000ff" />
<path d="M45.0 407.3h11l-5.5 10z" fill="#e00000" stroke="#000" stroke-width="1" stroke-linejoin="miter" shape-rendering="auto"/>
<rect x="92" y="425" width="8" height="3" fill="#000" />
<rect x="93" y="426" width="6" height="1" fill="#0000ff" />
<rect x="92" y="430" width="8" height="3" fill="#000" />
<rect x="93" y="431" width="6" height="1" fill="#0000ff" />
<path d="M104.0 412.3h11l-5.5 10z" fill="#e00000" stroke="#000" stroke-width="1" stroke-linejoin="miter" shape-rendering="auto"/>
<rect x="117" y="543" width="8" height="3" fill="#000" />
<rect x="118" y="544" width="6" height="1" fill="#ffff00" />
<rect x="117" y="548" width="8" height="3" fill="#000" />
<rect x="118" y="549" width="6" height="1" fill="#ffff00" />
<path d="M124.3 529.5l5.5 10h-11z" fill="#00a000" stroke="#000" stroke-width="1" stroke-linejoin="miter" shape-rendering="auto"/>
<rect x="135" y="413" width="8" height="3" fill="#000" />
<rect x="136" y="414" width="6" height="1" fill="#0000ff" />
<rect x="135" y="418" width="8" height="3" fill="#000" />
<rect x="136" y="419" width="6" height="1" fill="#0000ff" />
<path d="M169.1 417.6h11l-5.5 10z" fill="#e00000" stroke="#000" stroke-width="1" stroke-linejoin="miter" shape-rendering="auto"/>
<rect x="174" y="416" width="8" height="3" fill="#000" />
<rect x="175" y="417" width="6" height="1" fill="#0000ff" />
<rect x="174" y="421" width="8" height="3" fill="#000" />
<rect x="175" y="422" width="6" height="1" fill="#0000ff" />
<path d="M173.8 426.3h11l-5.5 10z" fill="#e00000" stroke="#000" stroke-width="1" stroke-linejoin="miter" shape-rendering="auto"/>
<rect x="249" y="549" width="8" height="3" fill="#000" />
<rect x="250" y="550" width="6" height="1" fill="#ffff00" />
<rect x="249" y="554" width="8" height="3" fill="#000" />
<rect x="250" y="555" width="6" height="1" fill="#ffff00" />
<path d="M263.5 547.7l5.5 10h-11z" fill="#00a000" stroke="#000" stroke-width="1" stroke-linejoin="miter" shape-rendering="auto"/>
<rect x="297" y="425" width="8" height="3" fill="#000" />
<rect x="298" y="426" width="6" height="1" fill="#0000ff" />
<rect x="297" y="430" width="8" height="3" fill="#000" />
<rect x="298" y="431" width="6" height="1" fill="#0000ff" />
<path d="M297.9 431.6h11l-5.5 10z" fill="#e00000" stroke="#000" stroke-width="1" stroke-linejoin="miter" shape-rendering="auto"/>
<rect x="309" y="429" width="8" height="3" fill="#000" />
<rect x="310" y="430" width="6" height="1" fill="#0000ff" />
<rect x="309" y="434" width="8" height="3" fill="#000" />
<rect x="310" y="435" width="6" height="1" fill="#0000ff" />
<path d="M319.0 434.0h11l-5.5 10z" fill="#e00000" stroke="#000" stroke-width="1" stroke-linejoin="miter" shape-rendering="auto"/>
<rect x="385" y="533" width="8" height="3" fill="#000" />
<rect x="386" y="534" width="6" height="1" fill="#ffff00" />
<rect x="385" y="538" width="8" height="3" fill="#000" />
<rect x="386" y="539" width="6" height="1" fill="#ffff00" />
<path d="M402.3 543.5l5.5 10h-11z" fill="#00a000" stroke="#000" stroke-width="1" stroke-linejoin="miter" shape-rendering="auto"/>
<rect x="555" y="553" width="8" height="3" fill="#000" />
<rect x="556" y="554" width="6" height="1" fill="#ffff00" />
<rect x="555" y="558" width="8" height="3" fill="#000" />
<rect x="556" y="559" width="6" height="1" fill="#ffff00" />
<path d="M564.4 526.7l5.5 10h-11z" fill="#00a000" stroke="#000" stroke-width="1" stroke-linejoin="miter" shape-rendering="auto"/>
<rect x="613" y="542" width="8" height="3" fill="#000" />
<rect x="614" y="543" width="6" height="1" fill="#ffff00" />
<rect x="613" y="547" width="8" height="3" fill="#000" />
<rect x="614" y="548" width="6" height="1" fill="#ffff00" />
<path d="M620.0 538.0l5.5 10h-11z" fill="#00a000" stroke="#000" stroke-width="1" stroke-linejoin="miter" shape-rendering="auto"/>
<rect x="619" y="538" width="8" height="3" fill="#000" />
<rect x="620" y="539" width="6" height="1" fill="#ffff00" />
<rect x="619" y="543" width="8" height="3" fill="#000" />
<rect x="620" y="544" width="6" height="1" fill="#ffff00" />
<path d="M625.2 527.4l5.5 10h-11z" fill="#00a000" stroke="#000" stroke-width="1" stroke-linejoin="miter" shape-rendering="auto"/>
<rect x="679" y="427" width="8" height="3" fill="#000" />
<rect x="680" y="428" width="6" height="1" fill="#0000ff" />
<rect x="679" y="432" width="8" height="3" fill="#000" />
<rect x="680" y="433" width="6" height="1" fill="#0000ff" />
<rect x="5" y="347" width="24" height="249" fill="#fff" />
<rect x="29" y="347" width="681" height="1" fill="#000" />
<rect x="29" y="595" width="681" height="1" fill="#000" />
<rect x="29" y="347" width="1" height="249" fill="#000" />
<rect x="709" y="347" width="1" height="249" fill="#000" />
<rect x="27" y="592" width="2" height="1" fill="#000" />
<rect x="710" y="592" width="2" height="1" fill="#000" />
<rect x="27" y="586" width="2" height="1" fill="#000" />
<rect x="710" y="586" width="2" height="1" fill="#000" />
<rect x="25" y="580" width="4" height="1" fill="#000" />
<rect x="710" y="580" width="4" height="1" fill="#000" />
<rect x="27" y="573" width="2" height="1" fill="#000" />
<rect x="710" y="573" width="2" height="1" fill="#000" />
<rect x="27" y="567" width="2" height="1" fill="#000" />
<rect x="710" y="567" width="2" height="1" fill="#000" />
<rect x="27" y="561" width="2" height="1" fill="#000" />
<rect x="710" y="561" width="2" height="1" fill="#000" />
<rect x="27" y="555" width="2" height="1" fill="#000" />
<rect x="710" y="555" width="2" height="1" fill="#000" />
<rect x="25" y="548" width="4" height="1" fill="#000" />
<rect x="710" y="548" width="4" height="1" fill="#000" />
<rect x="27" y="542" width="2" height="1" fill="#000" />
<rect x="710" y="542" width="2" height="1" fill="#000" />
<rect x="27" y="536" width="2" height="1" fill="#000" />
<rect x="710" y="536" width="2" height="1" fill="#000" />
<rect x="27" y="530" width="2" height="1" fill="#000" />
<rect x="710" y="530" width="2" height="1" fill="#000" />
<rect x="27" y="523" width="2" height="1" fill="#000" />
<rect x="710" y="523" width="2" height="1" fill="#000" />
<rect x="25" y="517" width="4" height="1" fill="#000" />
<rect x="710" y="517" width="4" height="1" fill="#000" />
<rect x="27" y="511" width="2" height="1" fill="#000" />
<rect x="710" y="511" width="2" height="1" fill="#000" />
<rect x="27" y="505" width="2" height="1" fill="#000" />
<rect x="710" y="505" width="2" height="1" fill="#000" />
<rect x="27" y="498" width="2" height="1" fill="#000" />
<rect x="710" y="498" width="2" height="1" fill="#000" />
<rect x="27" y="492" width="2" height="1" fill="#000" />
<rect x="710" y="492" width="2" height="1" fill="#000" />
<rect x="25" y="486" width="4" height="1" fill="#000" />
<rect x="710" y="486" width="4" height="1" fill="#000" />
<rect x="27" y="479" width="2" height="1" fill="#000" />
<rect x="710" y="479" width="2" height="1" fill="#000" />
<rect x="27" y="473" width="2" height="1" fill="#000" />
<rect x="710" y="473" width="2" height="1" fill="#000" />
<rect x="27" y="467" width="2" height="1" fill="#000" />
<rect x="710" y="467" width="2" height="1" fill="#000" />
<rect x="27" y="461" width="2" height="1" fill="#000" />
<rect x="710" y="461" width="2" height="1" fill="#000" />
<rect x="25" y="454" width="4" height="1" fill="#000" />
<rect x="710" y="454" width="4" height="1" fill="#000" />
<rect x="27" y="448" width="2" height="1" fill="#000" />
<rect x="710" y="448" width="2" height="1" fill="#000" />
<rect x="27" y="442" width="2" height="1" fill="#000" />
<rect x="710" y="442" width="2" height="1" fill="#000" />
<rect x="27" y="436" width="2" height="1" fill="#000" />
<rect x="710" y="436" width="2" height="1" fill="#000" />
<rect x="27" y="429" width="2" height="1" fill="#000" />
<rect x="710" y="429" width="2" height="1" fill="#000" />
<rect x="25" y="423" width="4" height="1" fill="#000" />
<rect x="710" y="423" width="4" height="1" fill="#000" />
<rect x="27" y="417" width="2" height="1" fill="#000" />
<rect x="710" y="417" width="2" height="1" fill="#000" />
<rect x="27" y="411" width="2" height="1" fill="#000" />
<rect x="710" y="411" width="2" height="1" fill="#000" />
<rect x="27" y="404" width="2" height="1" fill="#000" />
<rect x="710" y="404" width="2" height="1" fill="#000" />
<rect x="27" y="398" width="2" height="1" fill="#000" />
<rect x="710" y="398" width="2" height="1" fill="#000" />
<rect x="25" y="392" width="4" height="1" fill="#000" />
<rect x="710" y="392" width="4" height="1" fill="#000" />
<rect x="27" y="385" width="2" height="1" fill="#000" />
<rect x="710" y="385" width="2" height="1" fill="#000" />
<rect x="27" y="379" width="2" height="1" fill="#000" />
<rect x="710" y="379" width="2" height="1" fill="#000" />
<rect x="27" y="373" width="2" height="1" fill="#000" />
<rect x="710" y="373" width="2" height="1" fill="#000" />
<rect x="27" y="367" width="2" height="1" fill="#000" />
<rect x="710" y="367" width="2" height="1" fill="#000" />
<rect x="25" y="360" width="4" height="1" fill="#000" />
<rect x="710" y="360" width="4" height="1" fill="#000" />
<rect x="27" y="354" width="2" height="1" fill="#000" />
<rect x="710" y="354" width="2" height="1" fill="#000" />
<text x="8.5" y="584" font-family="&quot;Liberation Sans&quot;, sans-serif" font-size="11" font-weight="normal" fill="#000" stroke="#000" text-anchor="start" textLength="12" lengthAdjust="spacingAndGlyphs" >35</text>
<text x="717" y="584" font-family="&quot;Liberation Sans&quot;, sans-serif" font-size="11" font-weight="normal" fill="#000" stroke="#000" text-anchor="start" textLength="11.5" lengthAdjust="spacingAndGlyphs" >35</text>
<text x="8.5" y="552" font-family="&quot;Liberation Sans&quot;, sans-serif" font-size="11" font-weight="normal" fill="#000" stroke="#000" text-anchor="start" textLength="12" lengthAdjust="spacingAndGlyphs" >40</text>
<text x="717" y="552" font-family="&quot;Liberation Sans&quot;, sans-serif" font-size="11" font-weight="normal" fill="#000" stroke="#000" text-anchor="start" textLength="11.5" lengthAdjust="spacingAndGlyphs" >40</text>
<text x="8.5" y="521" font-family="&quot;Liberation Sans&quot;, sans-serif" font-size="11" font-weight="normal" fill="#000" stroke="#000" text-anchor="start" textLength="12" lengthAdjust="spacingAndGlyphs" >45</text>
<text x="717" y="521" font-family="&quot;Liberation Sans&quot;, sans-serif" font-size="11" font-weight="normal" fill="#000" stroke="#000" text-anchor="start" textLength="11.5" lengthAdjust="spacingAndGlyphs" >45</text>
<text x="8.5" y="490" font-family="&quot;Liberation Sans&quot;, sans-serif" font-size="11" font-weight="normal" fill="#000" stroke="#000" text-anchor="start" textLength="12" lengthAdjust="spacingAndGlyphs" >50</text>
<text x="717" y="490" font-family="&quot;Liberation Sans&quot;, sans-serif" font-size="11" font-weight="normal" fill="#000" stroke="#000" text-anchor="start" textLength="11.5" lengthAdjust="spacingAndGlyphs" >50</text>
<text x="8.5" y="458" font-family="&quot;Liberation Sans&quot;, sans-serif" font-size="11" font-weight="normal" fill="#000" stroke="#000" text-anchor="start" textLength="12" lengthAdjust="spacingAndGlyphs" >55</text>
<text x="717" y="458" font-family="&quot;Liberation Sans&quot;, sans-serif" font-size="11" font-weight="normal" fill="#000" stroke="#000" text-anchor="start" textLength="11.5" lengthAdjust="spacingAndGlyphs" >55</text>
<text x="8.5" y="427" font-family="&quot;Liberation Sans&quot;, sans-serif" font-size="11" font-weight="normal" fill="#000" stroke="#000" text-anchor="start" textLength="12" lengthAdjust="spacingAndGlyphs" >60</text>
<text x="717" y="427" font-family="&quot;Liberation Sans&quot;, sans-serif" font-size="11" font-weight="normal" fill="#000" stroke="#000" text-anchor="start" textLength="11.5" lengthAdjust="spacingAndGlyphs" >60</text>
<text x="8.5" y="396" font-family="&quot;Liberation Sans&quot;, sans-serif" font-size="11" font-weight="normal" fill="#000" stroke="#000" text-anchor="start" textLength="12" lengthAdjust="spacingAndGlyphs" >65</text>
<text x="717" y="396" font-family="&quot;Liberation Sans&quot;, sans-serif" font-size="11" font-weight="normal" fill="#000" stroke="#000" text-anchor="start" textLength="11.5" lengthAdjust="spacingAndGlyphs" >65</text>
<rect x="16.5" y="347.5" width="11" height="15" fill="#fff" stroke="#000" stroke-width="1"/>
<text x="17.8" y="358.5" font-family="&quot;Liberation Sans&quot;, sans-serif" font-size="10.5" font-weight="bold" fill="#000" stroke="#000" text-anchor="start" >a</text>
<rect x="18" y="360" width="6" height="1" fill="#000" />
<rect x="711.5" y="347.5" width="11" height="15" fill="#fff" stroke="#000" stroke-width="1"/>
<rect x="713" y="353" width="5" height="1" fill="#000" />
<rect x="713" y="355" width="5" height="1" fill="#000" />
<rect x="713" y="360" width="6" height="1" fill="#000" />
<rect x="31.5" y="349.5" width="138" height="17" fill="#fff" stroke="#000" stroke-width="1"/>
<rect x="36" y="358" width="12" height="1" fill="#0000ff" />
<text x="52" y="362" font-family="&quot;Liberation Sans&quot;, sans-serif" font-size="11" font-weight="normal" fill="#000" stroke="#000" text-anchor="start" textLength="114" lengthAdjust="spacingAndGlyphs" >RVI14 (*) 67,1229 (6.8.)</text>
<rect x="28" y="445" width="1" height="58" fill="#000" />
<rect x="710" y="445" width="1" height="58" fill="#000" />
<rect x="301" y="594" width="136" height="2" fill="#000" />
<rect x="124" y="595" width="1" height="6" fill="#000" />
<rect x="291" y="595" width="1" height="6" fill="#000" />
<rect x="455" y="595" width="1" height="6" fill="#000" />
<rect x="619" y="595" width="1" height="6" fill="#000" />
<rect x="69" y="595" width="1" height="3" fill="#000" />
<rect x="180" y="595" width="1" height="3" fill="#000" />
<rect x="235" y="595" width="1" height="3" fill="#000" />
<rect x="346" y="595" width="1" height="3" fill="#000" />
<rect x="400" y="595" width="1" height="3" fill="#000" />
<rect x="511" y="595" width="1" height="3" fill="#000" />
<rect x="564" y="595" width="1" height="3" fill="#000" />
<rect x="675" y="595" width="1" height="3" fill="#000" />
<text x="124" y="610.5" font-family="&quot;Liberation Sans&quot;, sans-serif" font-size="11" font-weight="normal" fill="#000" stroke="#000" text-anchor="start" >Okt 03</text>
<text x="291" y="610.5" font-family="&quot;Liberation Sans&quot;, sans-serif" font-size="11" font-weight="normal" fill="#000" stroke="#000" text-anchor="start" >Jan 04</text>
<text x="455" y="610.5" font-family="&quot;Liberation Sans&quot;, sans-serif" font-size="11" font-weight="normal" fill="#000" stroke="#000" text-anchor="start" >Apr 04</text>
<text x="619" y="610.5" font-family="&quot;Liberation Sans&quot;, sans-serif" font-size="11" font-weight="normal" fill="#000" stroke="#000" text-anchor="start" >Jul 04</text>
<defs><pattern id="dith" width="2" height="2" patternUnits="userSpaceOnUse"><rect width="2" height="2" fill="#c0c0c0"/><rect width="1" height="1" fill="#fff"/><rect x="1" y="1" width="1" height="1" fill="#fff"/></pattern></defs>
<rect x="17" y="30" width="16" height="14" fill="#000" />
<rect x="18" y="31" width="14" height="12" fill="#fff" />
<rect x="18" y="34" width="14" height="1" fill="#c0c0c0" />
<rect x="18" y="39" width="14" height="1" fill="#c0c0c0" />
<path d="M17 44L22.5 37.5L25.5 40.5L33 33.5" stroke="#ff0000" stroke-width="2" fill="none" shape-rendering="auto" />
<path d="M17 27l7 8M24 27l-7 8M20.5 26v10M16 31h9" stroke="#ffff00" stroke-width="1.2" fill="none" shape-rendering="auto" />
<rect x="19.5" y="30" width="2" height="2" fill="#fff" />
<rect x="41.5" y="32.5" width="9" height="6" fill="#c0c0c0" stroke="#fff"/>
<rect x="40.5" y="31.5" width="9" height="6" fill="#c0c0c0" stroke="#808080"/>
<rect x="44.5" y="35.0" width="9" height="6" fill="#c0c0c0" stroke="#fff"/>
<rect x="43.5" y="34.0" width="9" height="6" fill="#c0c0c0" stroke="#808080"/>
<rect x="47.5" y="37.5" width="9" height="6" fill="#c0c0c0" stroke="#fff"/>
<rect x="46.5" y="36.5" width="9" height="6" fill="#c0c0c0" stroke="#808080"/>
<rect x="65" y="30" width="7" height="6" fill="#000" />
<rect x="66" y="31" width="5" height="4" fill="#000080" />
<rect x="72" y="37" width="7" height="6" fill="#000" />
<rect x="73" y="38" width="5" height="4" fill="#ff0000" />
<path d="M95 31.5h5.5v2M91.5 38v-1.5h5" stroke="#000" stroke-width="1.4" fill="none" shape-rendering="auto" />
<rect x="88" y="29" width="7" height="6" fill="#000" />
<rect x="89" y="30" width="5" height="4" fill="#000080" />
<rect x="96" y="33" width="7" height="6" fill="#000" />
<rect x="97" y="34" width="5" height="4" fill="#ff0000" />
<rect x="88" y="38" width="7" height="6" fill="#000" />
<rect x="89" y="39" width="5" height="4" fill="#008000" />
<path d="M111.5 42.5L116 40.5C113 38 113.5 33.5 117 32.8C120 32.3 121.5 34.5 121 36.5M117 40L125 29.5M122 35C126 38 125.5 42 121 42.3C118.5 42.5 117 41 116 40.5" stroke="#800000" stroke-width="2" fill="none" shape-rendering="auto" />
<rect x="136" y="30" width="16" height="1" fill="#808080" />
<rect x="136" y="44" width="16" height="1" fill="#808080" />
<path d="M136 33.5H152" stroke="#808080" stroke-dasharray="1 1"/>
<path d="M136 36.5H152" stroke="#808080" stroke-dasharray="1 1"/>
<path d="M136 39.5H152" stroke="#808080" stroke-dasharray="1 1"/>
<path d="M136 42.5H152" stroke="#808080" stroke-dasharray="1 1"/>
<path d="M138 40l3-4 3 3 3-4 3 2" stroke="#808080" stroke-width="1.5" fill="none" shape-rendering="auto" />
<path d="M137 45.5H152" stroke="#fff" stroke-dasharray="1 1"/>
<rect x="138" y="32" width="12" height="1" fill="#fff" />
<rect x="160.5" y="31" width="2.2" height="14" fill="#ff0000" shape-rendering="auto"/>
<rect x="164" y="32" width="1.6" height="13" fill="#ff0000" shape-rendering="auto"/>
<rect x="167" y="30" width="1.8" height="15" fill="#ff0000" shape-rendering="auto"/>
<rect x="169.5" y="35" width="2.4" height="10" fill="#ff0000" shape-rendering="auto"/>
<rect x="172.3" y="36" width="1.4" height="9" fill="#ff0000" shape-rendering="auto"/>
<rect x="174.3" y="33" width="1.4" height="12" fill="#ff0000" shape-rendering="auto"/>
<rect x="162.5" y="36" width="1.5" height="9" fill="#ff0000" shape-rendering="auto"/>
<rect x="168.5" y="33" width="1" height="12" fill="#809090" shape-rendering="auto"/>
<rect x="183" y="30" width="16" height="14" fill="#000" />
<rect x="184" y="31" width="14" height="12" fill="#fff" />
<rect x="184" y="34" width="14" height="1" fill="#c0c0c0" />
<rect x="184" y="39" width="14" height="1" fill="#c0c0c0" />
<path d="M183 44L188.5 37.5L191.5 40.5L199 33.5" stroke="#ff0000" stroke-width="2" fill="none" shape-rendering="auto" />
<rect x="206" y="30" width="16" height="12" fill="#808080" />
<rect x="207" y="31" width="14" height="10" fill="#fff" />
<rect x="207" y="31" width="14" height="2" fill="#000080" />
<rect x="209" y="34" width="4" height="1" fill="#000" />
<rect x="214" y="34" width="3" height="1" fill="#000" />
<rect x="209" y="36" width="5" height="1" fill="#000" />
<rect x="209" y="38" width="5" height="1" fill="#000" />
<rect x="209" y="40" width="4" height="1" fill="#808080" />
<path d="M217 41l-3 3M220.5 41l2 3.5" stroke="#606060" stroke-width="1.5" fill="none" shape-rendering="auto" />
<circle cx="219" cy="39" r="2.8" fill="#ff9090" shape-rendering="auto"/><circle cx="219" cy="39" r="1.8" fill="#ff0000" shape-rendering="auto"/>
<rect x="234" y="31" width="10" height="7" fill="#fff" stroke="#000" stroke-width="1.4" shape-rendering="auto"/>
<rect x="235" y="32" width="8" height="2" fill="#0000ff" shape-rendering="auto"/>
<rect x="231.5" y="33" width="10" height="7" fill="#fff" stroke="#000" stroke-width="1.4" shape-rendering="auto"/>
<rect x="232.5" y="34" width="8" height="2" fill="#0000ff" shape-rendering="auto"/>
<rect x="229" y="35" width="10" height="7" fill="#fff" stroke="#000" stroke-width="1.4" shape-rendering="auto"/>
<rect x="230" y="36" width="8" height="2" fill="#0000ff" shape-rendering="auto"/>
<rect x="231" y="40" width="3" height="1" fill="#808080" />
<rect x="235" y="40" width="3" height="1" fill="#808080" />
<rect x="248" y="30" width="16" height="14" fill="#808080" />
<rect x="249" y="31" width="14" height="12" fill="#fff" />
<path d="M249 36l3-3.5 3 1 3-2.5 3 0 3 3" stroke="#00e000" stroke-width="2" fill="none" shape-rendering="auto" />
<path d="M249 40l3 2 3-1 3 1 3-3 3-2" stroke="#0000ff" stroke-width="2" fill="none" shape-rendering="auto" />
<path d="M250 37h6M253 34v6" stroke="#000" stroke-width="2" fill="none" shape-rendering="auto" />
<text x="281" y="42" font-family="&quot;Liberation Sans&quot;, sans-serif" font-size="16.5" font-weight="normal" fill="#000" stroke="#000" text-anchor="start" >D</text>
<text x="304" y="42" font-family="&quot;Liberation Sans&quot;, sans-serif" font-size="16.5" font-weight="normal" fill="#000" stroke="#000" text-anchor="start" >K</text>
<path d="M290 41.5h7M294.5 39.0l2.5 2.5l-2.5 2.5" stroke="#d01030" stroke-width="1.5" fill="none" shape-rendering="auto" />
<path d="M313 41.5h7M317.5 39.0l2.5 2.5l-2.5 2.5" stroke="#d01030" stroke-width="1.5" fill="none" shape-rendering="auto" />
<rect x="324" y="26" width="23" height="22" fill="url(#dith)" />
<rect x="324" y="26" width="23" height="1" fill="#808080" />
<rect x="324" y="26" width="1" height="22" fill="#808080" />
<rect x="324" y="47" width="23" height="1" fill="#ffffff" />
<rect x="346" y="26" width="1" height="22" fill="#ffffff" />
<path d="M331 30h11.5l-5.75 6z" fill="#ff0000" shape-rendering="auto"/>
<path d="M328 41h11.5l-5.75-5.5z" fill="#008000" shape-rendering="auto"/>
<path d="M337 43.5h7M341.5 41.0l2.5 2.5l-2.5 2.5" stroke="#c01040" stroke-width="1.5" fill="none" shape-rendering="auto" />
<rect x="350" y="30" width="16" height="14" fill="#000" />
<rect x="351" y="31" width="14" height="12" fill="#fff" />
<rect x="351" y="35" width="14" height="1" fill="#a0a0a0" />
<rect x="351" y="39" width="14" height="1" fill="#a0a0a0" />
<rect x="355" y="31" width="1" height="12" fill="#a0a0a0" />
<rect x="360" y="31" width="1" height="12" fill="#a0a0a0" />
<path d="M350 44L366 33" stroke="#ff0000" stroke-width="1.6" fill="none" shape-rendering="auto" stroke-dasharray="3 1.5"/>
<rect x="373" y="30" width="16" height="14" fill="#000" />
<rect x="374" y="31" width="14" height="12" fill="#fff" />
<path d="M378 33.5h10" stroke="#00a0ff" stroke-width="1.6" fill="none" shape-rendering="auto" />
<path d="M375 37.7h13" stroke="#d01030" stroke-width="1.6" fill="none" shape-rendering="auto" />
<path d="M379 41h9" stroke="#00a040" stroke-width="1.6" fill="none" shape-rendering="auto" />
<rect x="377" y="33" width="2" height="2" fill="#00a0ff" />
<rect x="374.5" y="37" width="2" height="2" fill="#d01030" />
<rect x="378.5" y="40.5" width="2" height="2" fill="#00a040" />
<path d="M406 36.5h15M413.5 29v15" stroke="#000" stroke-width="1.2" fill="none" shape-rendering="auto" />
<circle cx="413.5" cy="36.5" r="2" fill="none" stroke="#000" shape-rendering="auto"/>
<path d="M437.5 30v14M433.5 33.5l4-4 4 4" stroke="#000" stroke-width="1.4" fill="none" shape-rendering="auto" />
<path d="M429 36h6M433 33.8l2.5 2.2-2.5 2.2" stroke="#00e000" stroke-width="1.7" fill="none" shape-rendering="auto" />
<path d="M429 41.5h6M433 39.3l2.5 2.2-2.5 2.2" stroke="#ff0000" stroke-width="1.7" fill="none" shape-rendering="auto" />
<path d="M445.5 38.7h-6M441.5 36.5l-2.5 2.2 2.5 2.2" stroke="#0000ff" stroke-width="1.7" fill="none" shape-rendering="auto" />
<rect x="449" y="26" width="23" height="22" fill="url(#dith)" />
<rect x="449" y="26" width="23" height="1" fill="#808080" />
<rect x="449" y="26" width="1" height="22" fill="#808080" />
<rect x="449" y="47" width="23" height="1" fill="#ffffff" />
<rect x="471" y="26" width="1" height="22" fill="#ffffff" />
<path d="M453 43.5h8.5" stroke="#000" stroke-width="1.3" fill="none" shape-rendering="auto" />
<path d="M461.5 43L466.5 32.5L469 33.7L464 44z" stroke="#000" stroke-width="1" fill="#ffff00" shape-rendering="auto" />
<path d="M466.5 32.5l2.5 1.2" stroke="#c00000" stroke-width="2" fill="none" shape-rendering="auto" />
<rect x="476" y="29" width="15" height="15" fill="#000" />
<rect x="477" y="30" width="13" height="13" fill="#fff" />
<path d="M479 35.5l2.5-4.5 2.5 4.5M480 34h3" stroke="#000" stroke-width="1" fill="none" shape-rendering="auto" />
<rect x="485" y="32" width="4" height="1" fill="#000" />
<rect x="485" y="34" width="4" height="1" fill="#000" />
<rect x="479" y="37" width="10" height="1" fill="#000" />
<rect x="479" y="39" width="10" height="1" fill="#000" />
<rect x="479" y="41" width="10" height="1" fill="#000" />
<rect x="495" y="26" width="23" height="22" fill="url(#dith)" />
<rect x="495" y="26" width="23" height="1" fill="#808080" />
<rect x="495" y="26" width="1" height="22" fill="#808080" />
<rect x="495" y="47" width="23" height="1" fill="#ffffff" />
<rect x="517" y="26" width="1" height="22" fill="#ffffff" />
<rect x="499" y="30" width="16" height="14" fill="#000" />
<rect x="500" y="31" width="14" height="12" fill="#fff" />
<rect x="502.5" y="32" width="3" height="2.5" fill="#0000ff" />
<rect x="502.5" y="36" width="3" height="2.5" fill="#800000" />
<rect x="502.5" y="40" width="3" height="2.5" fill="#ffff00" />
<rect x="507" y="33" width="5" height="1" fill="#000" />
<rect x="507" y="37" width="5" height="1" fill="#000" />
<rect x="507" y="41" width="5" height="1" fill="#000" />
<rect x="522" y="32" width="15" height="11" fill="#808080" />
<rect x="521" y="31" width="15" height="11" fill="#000" />
<rect x="522" y="32" width="13" height="9" fill="#fff" />
<rect x="522" y="32" width="4" height="9" fill="#c0c0c0" />
<rect x="526" y="32" width="1" height="9" fill="#000" />
<rect x="522" y="35" width="4" height="1" fill="#000" />
<rect x="522" y="38" width="4" height="1" fill="#000" />
<rect x="527" y="35" width="8" height="1" fill="#c0c0c0" />
<path d="M17 68l4-4.5 2 2 3.5-6.5 3 6 1.5-1.5 2 3.5v3" stroke="#000" stroke-width="1.5" fill="none" shape-rendering="auto" />
<path d="M22 57.5c1-1.5 4-1.5 5 0" stroke="#000080" stroke-width="1.5" fill="none" shape-rendering="auto" stroke-dasharray="1 1"/>
<path d="M18.5 61.5c1-1.5 3-1.5 4 0" stroke="#000080" stroke-width="1.5" fill="none" shape-rendering="auto" stroke-dasharray="1 1"/>
<path d="M27 61.5c1-1.5 3-1.5 4 0" stroke="#000080" stroke-width="1.5" fill="none" shape-rendering="auto" stroke-dasharray="1 1"/>
<path d="M18 66.5H31" stroke="#0000c0" stroke-width="1.2" stroke-dasharray="1 1"/>
<path d="M42 56h13l-6.5 6.5z" fill="#ff0000" shape-rendering="auto"/>
<path d="M39 69h13l-6.5-7z" fill="#008000" shape-rendering="auto"/>
<path d="M62.5 55.5L66.5 58.5L70.5 64.5L72.5 67.5L69 65.5L63 62z" stroke="#000" stroke-width="1.2" fill="#ffff00" shape-rendering="auto" />
<path d="M67 61.5l3.5 3 2 3-3.2-1.7-3.3-2z" stroke="#000" stroke-width="1" fill="#fff" shape-rendering="auto" />
<path d="M72.5 67.5l1.5 2 1.5-1.5h3" stroke="#000" stroke-width="1.2" fill="none" shape-rendering="auto" />
<rect x="85" y="59" width="12" height="11" fill="#000" />
<rect x="86.5" y="60.5" width="9" height="8" fill="#fff" />
<rect x="88" y="64" width="2" height="1" fill="#000" />
<rect x="91" y="64" width="4" height="1" fill="#000" />
<rect x="88" y="67" width="2" height="1" fill="#000" />
<rect x="91" y="67" width="4" height="1" fill="#000" />
<path d="M88 60l3.5-3.5 4 0 2.5 2.5-3 3.5" stroke="#000" stroke-width="1" fill="#e0e0e0" shape-rendering="auto" />
<path d="M88.5 60.5l3-3M90 61.5l3-3M91.5 62.5l3-3" stroke="#000" stroke-dasharray="1 1" shape-rendering="auto"/>
<rect x="98.5" y="56" width="2.5" height="6.5" fill="#0000a0" />
<rect x="124" y="62" width="3" height="3" fill="#000" />
<path d="M137 61h6l-3 3z" fill="#000" shape-rendering="auto"/>
<rect x="149" y="52" width="1" height="22" fill="#808080" />
<rect x="150" y="52" width="1" height="22" fill="#ffffff" />
<rect x="153" y="52" width="23" height="22" fill="url(#dith)" />
<rect x="153" y="52" width="23" height="1" fill="#808080" />
<rect x="153" y="52" width="1" height="22" fill="#808080" />
<rect x="153" y="73" width="23" height="1" fill="#ffffff" />
<rect x="175" y="52" width="1" height="22" fill="#ffffff" />
<text x="159.5" y="70" font-family="&quot;Liberation Sans&quot;, sans-serif" font-size="16.5" font-weight="normal" fill="#000" stroke="#000" text-anchor="start" >K</text>
<text x="182" y="69.5" font-family="&quot;Liberation Sans&quot;, sans-serif" font-size="16.5" font-weight="normal" fill="#000" stroke="#000" text-anchor="start" >D</text>
<rect x="201" y="52" width="1" height="22" fill="#808080" />
<rect x="202" y="52" width="1" height="22" fill="#ffffff" />
<rect x="205" y="52" width="23" height="22" fill="url(#dith)" />
<rect x="205" y="52" width="23" height="1" fill="#808080" />
<rect x="205" y="52" width="1" height="22" fill="#808080" />
<rect x="205" y="73" width="23" height="1" fill="#ffffff" />
<rect x="227" y="52" width="1" height="22" fill="#ffffff" />
<text x="211.8" y="67" font-family="&quot;Liberation Sans&quot;, sans-serif" font-size="9.5" font-weight="bold" fill="#000" stroke="#000" text-anchor="start" textLength="12.2" lengthAdjust="spacingAndGlyphs" >Ln</text>
<rect x="243.5" y="57.5" width="12" height="12" fill="none" stroke="#808080" stroke-dasharray="1 1"/>
<path d="M249.5 57v13" stroke="#808080" stroke-dasharray="1 1"/>
<path d="M247.5 60.5v6l-3.5-3z M251.5 60.5v6l3.5-3z" fill="#0000c0" shape-rendering="auto"/>
<path d="M260 61.5h6l-3 3z" fill="#000" shape-rendering="auto"/>
<path d="M280.9 64.5l2 1.6" stroke="#ffff00" stroke-width="2.2" fill="none" shape-rendering="auto" />
<path d="M282.5 65.8l5.2 4.8" stroke="#000" stroke-width="2.4" fill="none" shape-rendering="auto" />
<circle cx="277.7" cy="61" r="4.5" fill="#f0e0e0" stroke="#000" stroke-width="1.5" shape-rendering="auto"/>
<path d="M275.2 61h5" stroke="#ff0000" stroke-width="1.4" fill="none" shape-rendering="auto" />
<path d="M304.5 64.5l2 1.6" stroke="#ffff00" stroke-width="2.2" fill="none" shape-rendering="auto" />
<path d="M306.1 65.8l5.2 4.8" stroke="#000" stroke-width="2.4" fill="none" shape-rendering="auto" />
<circle cx="301.3" cy="61" r="4.5" fill="#f0e0e0" stroke="#000" stroke-width="1.5" shape-rendering="auto"/>
<path d="M298.8 61h5" stroke="#ff0000" stroke-width="1.4" fill="none" shape-rendering="auto" />
<path d="M301.3 58.5v5" stroke="#ff0000" stroke-width="1.4" fill="none" shape-rendering="auto" />
<rect x="326" y="55" width="4" height="13" fill="#808080" />
<rect x="330" y="56" width="1" height="12" fill="#fff" />
<rect x="321" y="55" width="1" height="13" fill="#808080" />
<rect x="322" y="56" width="1" height="12" fill="#fff" />
<rect x="319" y="55" width="2" height="1" fill="#808080" />
<rect x="319" y="56" width="2" height="1" fill="#fff" />
<rect x="319" y="59" width="2" height="1" fill="#808080" />
<rect x="319" y="60" width="2" height="1" fill="#fff" />
<rect x="319" y="63" width="2" height="1" fill="#808080" />
<rect x="319" y="64" width="2" height="1" fill="#fff" />
<rect x="319" y="67" width="2" height="1" fill="#808080" />
<rect x="319" y="68" width="2" height="1" fill="#fff" />
<rect x="322" y="68" width="13" height="1" fill="#808080" />
<rect x="323" y="69" width="13" height="1" fill="#fff" />
<rect x="322" y="68" width="1" height="3" fill="#808080" />
<rect x="323" y="69" width="1" height="3" fill="#fff" />
<rect x="326" y="68" width="1" height="3" fill="#808080" />
<rect x="327" y="69" width="1" height="3" fill="#fff" />
<rect x="330" y="68" width="1" height="3" fill="#808080" />
<rect x="331" y="69" width="1" height="3" fill="#fff" />
<rect x="334" y="68" width="1" height="3" fill="#808080" />
<rect x="335" y="69" width="1" height="3" fill="#fff" />
<rect x="323" y="59" width="3" height="5" fill="#808080" />
<rect x="324" y="60" width="1" height="3" fill="#fff" />
<rect x="323" y="65" width="3" height="1" fill="#fff" />
<rect x="330" y="59" width="3" height="2" fill="#808080" />
<rect x="331" y="62" width="4" height="1" fill="#fff" />
<rect x="352" y="58" width="15" height="9" fill="#000" />
<rect x="353" y="59" width="13" height="7" fill="#0000ff" />
<text x="353.5" y="65.5" font-family="&quot;Liberation Sans&quot;, sans-serif" font-size="7" font-weight="bold" fill="#fff" stroke="#fff" text-anchor="start" textLength="12" lengthAdjust="spacingAndGlyphs" >BUY</text>
<rect x="375" y="58" width="15" height="9" fill="#000" />
<rect x="376" y="59" width="13" height="7" fill="#ff0000" />
<text x="376.3" y="65.5" font-family="&quot;Liberation Sans&quot;, sans-serif" font-size="7" font-weight="bold" fill="#fff" stroke="#fff" text-anchor="start" textLength="12.5" lengthAdjust="spacingAndGlyphs" >SELL</text>
<path d="M746.4 90.2L759.8 102.8" stroke="#000" stroke-width="1.5" fill="none" shape-rendering="auto" />
<path d="M746.2 112.4L759.8 120.6M746.2 116.7L759.8 125.7" stroke="#000" stroke-width="1.5" fill="none" shape-rendering="auto" />
<text x="751.8" y="146" font-family="&quot;Liberation Serif&quot;, serif" font-size="17" font-weight="bold" fill="#000" stroke="#000" text-anchor="middle" >A</text>
<path d="M751 155.3C755.5 157.5 755 160.5 752.3 163.5C749 167 749.2 169 753 169.8" stroke="#000" stroke-width="1.6" fill="none" shape-rendering="auto" />
<path d="M745.3 184.3C746.3 180 750.8 179.2 752.5 184C754.2 189.5 757.5 192.5 760.6 186.5" stroke="#000" stroke-width="1.3" fill="none" shape-rendering="auto" />
<path d="M747 206l12 11.5M759.5 206l-12.5 11.5" stroke="#ff0000" stroke-width="2.4" fill="none" shape-rendering="auto" />
<path d="M746.5 238.5l11 11M757.5 239.5l-6 6M748 238.5h-2.5v3M756 250l2 .3 .3-2.5" stroke="#000" stroke-width="1.4" fill="none" shape-rendering="auto" />
<text x="744.5" y="251.5" font-family="&quot;Liberation Sans&quot;, sans-serif" font-size="7" font-weight="bold" fill="#000" stroke="#000" text-anchor="start" >R</text>
<path d="M752 244l2-3 0 6z" stroke="#000" stroke-width="1" fill="none" shape-rendering="auto" />
<path d="M750.5 259.5L759 267.5L757.5 274M747 265L757 274.5" stroke="#000" stroke-width="1.6" fill="none" shape-rendering="auto" />
<path d="M751 262l-2 4M753.5 264l-2 5M756 266.5l-2 5M752 265l4 4" stroke="#000" stroke-width="1.3" stroke-dasharray="2 1" fill="none" shape-rendering="auto"/>
<rect x="746" y="260" width="1" height="2" fill="#000" />
<rect x="748" y="260" width="1" height="2" fill="#000" />
<rect x="760" y="272" width="1" height="2" fill="#000" />
<text x="744.5" y="274" font-family="&quot;Liberation Sans&quot;, sans-serif" font-size="7" font-weight="bold" fill="#000" stroke="#000" text-anchor="start" >G</text>
<path d="M750.5 281.5L759 289.5L757.5 296M747 287L757 296.5" stroke="#000" stroke-width="1.6" fill="none" shape-rendering="auto" />
<path d="M751 284l-2 4M753.5 286l-2 5M756 288.5l-2 5M752 287l4 4" stroke="#000" stroke-width="1.3" stroke-dasharray="2 1" fill="none" shape-rendering="auto"/>
<rect x="746" y="282" width="1" height="2" fill="#000" />
<rect x="748" y="282" width="1" height="2" fill="#000" />
<rect x="760" y="294" width="1" height="2" fill="#000" />
<text x="744.5" y="296" font-family="&quot;Liberation Sans&quot;, sans-serif" font-size="7" font-weight="bold" fill="#000" stroke="#000" text-anchor="start" >E</text>
<path d="M750.5 304.0L759 312.0L757.5 318.5M747 309.5L757 319.0" stroke="#000" stroke-width="1.6" fill="none" shape-rendering="auto" />
<path d="M751 306.5l-2 4M753.5 308.5l-2 5M756 311.0l-2 5M752 309.5l4 4" stroke="#000" stroke-width="1.3" stroke-dasharray="2 1" fill="none" shape-rendering="auto"/>
<rect x="746" y="304.5" width="1" height="2" fill="#000" />
<rect x="748" y="304.5" width="1" height="2" fill="#000" />
<rect x="760" y="316.5" width="1" height="2" fill="#000" />
<rect x="745" y="313.5" width="5" height="1" fill="#000" />
<rect x="745" y="316.5" width="5" height="1" fill="#000" />
<path d="M745.4 347.5a8 8 0 0 1 16 0" stroke="#000" stroke-width="1.2" fill="none" shape-rendering="auto" />
<path d="M747.9 347.5a5.5 5.5 0 0 1 11.0 0" stroke="#000" stroke-width="1.2" fill="none" shape-rendering="auto" />
<path d="M750.4 347.5a3 3 0 0 1 6 0" stroke="#000" stroke-width="1.2" fill="none" shape-rendering="auto" />
<path d="M746 371L760.5 358M746 371L760.5 363M746 371L760.5 367.5" stroke="#000" stroke-width="1.1" fill="none" shape-rendering="auto" />
<rect x="746" y="379" width="16" height="1" fill="#000" />
<path d="M746 384.5H762" stroke="#000" stroke-dasharray="1 1"/>
<path d="M746 388.5H762" stroke="#000" stroke-dasharray="1 1"/>
<path d="M746 392.5H762" stroke="#000" stroke-dasharray="1 1"/>
<path d="M746.5 401V417" stroke="#000" stroke-dasharray="1 1"/>
<rect x="750" y="401" width="1.3" height="16" fill="#000" shape-rendering="auto"/>
<rect x="754" y="401" width="1.3" height="16" fill="#000" shape-rendering="auto"/>
<rect x="757.5" y="401" width="1.3" height="16" fill="#000" shape-rendering="auto"/>
<rect x="761" y="401" width="1.3" height="16" fill="#000" shape-rendering="auto"/>
<path d="M747 437L761 424" stroke="#000" stroke-width="1.2" fill="none" shape-rendering="auto" />
<path d="M745.5 459.5L752.5 445.3" stroke="#000" stroke-width="1.6" fill="none" shape-rendering="auto" stroke-dasharray="2 1"/>
<path d="M745.5 459.5L760 445.3" stroke="#000" stroke-width="1.1" fill="none" shape-rendering="auto" />
<path d="M745.5 459.5L760.5 451.5" stroke="#000" stroke-width="1.3" fill="none" shape-rendering="auto" stroke-dasharray="3 1"/>
<path d="M745.5 459.5L760.5 455.3" stroke="#000" stroke-width="1.3" fill="none" shape-rendering="auto" stroke-dasharray="3 1"/>
<path d="M745.5 459L761 459" stroke="#000" stroke-width="1.6" fill="none" shape-rendering="auto" />
<path d="M745.5 459.5l3-5 4 5z" stroke="#000" stroke-width="1" fill="#000" shape-rendering="auto" />
<path d="M746.0 479.4l2.6 2.6M761.0 479.4l-2.6 2.6M746.0 473.2l8.8 8.8M761.0 473.2l-8.8 8.8M746.0 467.0l15.0 15.0M761.0 467.0l-15.0 15.0M752.2 467.0l8.8 8.8M754.8 467.0l-8.8 8.8M758.4 467.0l2.6 2.6M748.6 467.0l-2.6 2.6" stroke="#000" stroke-width="1.1" fill="none" shape-rendering="auto"/>
<rect x="745.5" y="501.5" width="14" height="10" fill="none" stroke="#000"/>
<ellipse cx="752.7" cy="528.7" rx="7.3" ry="5" fill="none" stroke="#000" stroke-width="1.1" shape-rendering="auto"/>
<rect x="745.5" y="545.5" width="14" height="9.5" rx="3" fill="none" stroke="#000" stroke-width="1.1" shape-rendering="auto"/>
<rect x="745.5" y="567.5" width="14" height="10" fill="#808080" stroke="#000"/>
<path d="M748 604.8v5.4l-3.2-2.7z" fill="#000" shape-rendering="auto"/>
<path d="M757.3 603.8l2.6 2.6 2.6-2.6M757.3 608.8l2.6 2.6 2.6-2.6" stroke="#000" stroke-width="1.5" fill="none" shape-rendering="auto" />
</svg>
</body></html>
